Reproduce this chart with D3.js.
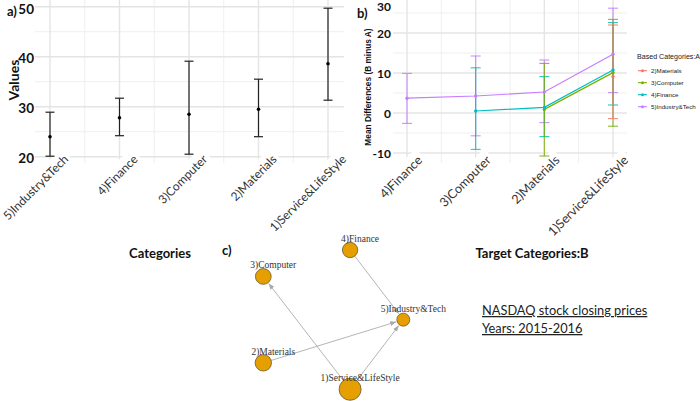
<!DOCTYPE html>
<html><head><meta charset="utf-8">
<script src="https://cdn.jsdelivr.net/npm/d3@7"></script>
<style>body{margin:0;background:#fff}svg{display:block}</style>
</head><body>
<script>
// ---------- DATA ----------
// Panel a
const categoriesA = ["5)Industry&Tech","4)Finance","3)Computer","2)Materials","1)Service&LifeStyle"];
const meanA  = [24.0, 27.8, 28.5, 29.5, 38.6];
const lowerA = [20.1, 24.2, 20.5, 24.0, 31.3];
const upperA = [28.9, 31.7, 39.1, 35.5, 49.7];
const ticksA = [20, 30, 40, 50];

// Panel b
const targetsB = ["4)Finance","3)Computer","2)Materials","1)Service&LifeStyle"];
const baseGroups = ["2)Materials","3)Computer","4)Finance","5)Industry&Tech"];
const meanMaterials  = [null, null, null, 9.1];
const lowerMaterials = [null, null, null, -1.4];
const upperMaterials = [null, null, null, 22.0];
const meanComputer  = [null, null, 0.9, 10.1];
const lowerComputer = [null, null, -10.75, -3.3];
const upperComputer = [null, null, 12.4, 23.4];
const meanFinance  = [null, 0.5, 1.4, 10.75];
const lowerFinance = [null, -9.1, -5.9, 2.0];
const upperFinance = [null, 11.3, 9.1, 22.6];
const meanIndustry  = [3.7, 4.25, 5.25, 14.7];
const lowerIndustry = [-2.6, -5.7, -2.4, 5.1];
const upperIndustry = [9.9, 14.25, 13.25, 26.2];
const ticksB = [-10, 0, 10, 20, 30];

// Panel c (network)
const nodeNames = ["1)Service&LifeStyle","2)Materials","3)Computer","4)Finance","5)Industry&Tech"];
const nodeLayoutX = [0.62, 0.0, 0.0, 0.62, 1.0];
const nodeLayoutY = [1.0, 0.81, 0.19, 0.0, 0.5];
const nodeValue = [38.6, 29.5, 28.5, 27.8, 24.0];
const edgeSource = ["1)Service&LifeStyle","1)Service&LifeStyle","2)Materials","4)Finance"];
const edgeTarget = ["3)Computer","5)Industry&Tech","5)Industry&Tech","5)Industry&Tech"];

const noteLines = ["NASDAQ stock closing prices", "Years: 2015-2016"];

// ---------- DRAW ----------
const W = 700, H = 401;
const svg = d3.select("body").append("svg").attr("width", W).attr("height", H)
  .style("font-family", "Lato, 'Open Sans', sans-serif");
svg.append("rect").attr("width", W).attr("height", H).attr("fill", "#fff");

const gridMajor = "#e4e4e4", gridMinor = "#efefef";

function rotLabels(g, scale, cats, dx, y, fs) {
  cats.forEach(c => {
    const gg = g.append("g").attr("transform", `translate(${scale(c) + dx},${y}) rotate(-45)`);
    const t = gg.append("text").attr("text-anchor", "end").attr("font-size", fs)
      .attr("fill", "#333").text(c);
    const bb = t.node().getBBox();
    gg.insert("rect", "text").attr("x", bb.x - 3).attr("y", bb.y - 2)
      .attr("width", bb.width + 6).attr("height", bb.height + 4).attr("fill", "#fff");
  });
}

// ===== Panel a =====
{
  const L = 35, R = 344, T = 0, B = 163;
  const x = d3.scalePoint().domain(categoriesA).range([50, 328]);
  const y = d3.scaleLinear().domain([20, 50]).range([156.7, 6.7]);
  const g = svg.append("g");
  [15, 25, 35, 45, 55].forEach(v => {
    const yy = y(v); if (yy < T || yy > B) return;
    g.append("line").attr("x1", L).attr("x2", R).attr("y1", yy).attr("y2", yy)
      .attr("stroke", gridMinor).attr("stroke-width", 1);
  });
  const step = x.step();
  categoriesA.slice(0, -1).forEach(c => {
    g.append("line").attr("x1", x(c) + step / 2).attr("x2", x(c) + step / 2).attr("y1", T).attr("y2", B)
      .attr("stroke", gridMinor).attr("stroke-width", 1);
  });
  ticksA.forEach(v => {
    g.append("line").attr("x1", L).attr("x2", R).attr("y1", y(v)).attr("y2", y(v))
      .attr("stroke", gridMajor).attr("stroke-width", 1.4);
  });
  categoriesA.forEach(c => {
    g.append("line").attr("x1", x(c)).attr("x2", x(c)).attr("y1", T).attr("y2", B)
      .attr("stroke", gridMajor).attr("stroke-width", 1.4);
  });
  ticksA.forEach(v => {
    g.append("text").attr("x", 34).attr("y", Math.max(y(v) + 6, 14)).attr("text-anchor", "end")
      .attr("font-size", 13.5).attr("font-weight", "bold").attr("fill", "#111").text(v);
  });
  rotLabels(g, x, categoriesA, 19, 160, 12);
  categoriesA.forEach((c, i) => {
    const cx = x(c);
    g.append("line").attr("x1", cx).attr("x2", cx).attr("y1", y(lowerA[i])).attr("y2", y(upperA[i]))
      .attr("stroke", "#222").attr("stroke-width", 1.2);
    [lowerA[i], upperA[i]].forEach(v => g.append("line").attr("x1", cx - 4.5).attr("x2", cx + 4.5)
      .attr("y1", y(v)).attr("y2", y(v)).attr("stroke", "#222").attr("stroke-width", 1.2));
    g.append("circle").attr("cx", cx).attr("cy", y(meanA[i])).attr("r", 1.8).attr("fill", "#000");
  });
  g.append("text").attr("transform", "translate(19,80) rotate(-90)").attr("text-anchor", "middle")
    .attr("font-size", 14).attr("font-weight", "bold").attr("fill", "#111").text("Values");
  g.append("text").attr("x", 160).attr("y", 258).attr("text-anchor", "middle")
    .attr("font-size", 13).attr("font-weight", "bold").attr("fill", "#111").text("Categories");
  g.append("text").attr("x", 7).attr("y", 16).attr("font-size", 13).attr("font-weight", "bold")
    .attr("fill", "#111").text("a)");
}

// ===== Panel b =====
{
  const L = 393, R = 627, T = 0, B = 163;
  const x = d3.scalePoint().domain(targetsB).range([407, 613]);
  const y = d3.scaleLinear().domain([-10, 20]).range([153, 33]);
  const g = svg.append("g");
  [-15, -5, 5, 15, 25].forEach(v => {
    const yy = y(v); if (yy < T || yy > B) return;
    g.append("line").attr("x1", L).attr("x2", R).attr("y1", yy).attr("y2", yy)
      .attr("stroke", gridMinor).attr("stroke-width", 1);
  });
  const step = x.step();
  targetsB.slice(0, -1).forEach(c => {
    g.append("line").attr("x1", x(c) + step / 2).attr("x2", x(c) + step / 2).attr("y1", T).attr("y2", B)
      .attr("stroke", gridMinor).attr("stroke-width", 1);
  });
  ticksB.forEach(v => {
    const yy = y(v); if (yy < T || yy > B) return;
    g.append("line").attr("x1", L).attr("x2", R).attr("y1", yy).attr("y2", yy)
      .attr("stroke", gridMajor).attr("stroke-width", 1.4);
  });
  targetsB.forEach(c => {
    g.append("line").attr("x1", x(c)).attr("x2", x(c)).attr("y1", T).attr("y2", B)
      .attr("stroke", gridMajor).attr("stroke-width", 1.4);
  });
  ticksB.forEach(v => {
    g.append("text").attr("x", 391).attr("y", Math.max(y(v) + 4.5, 10.5)).attr("text-anchor", "end")
      .attr("font-size", 12).attr("font-weight", "bold").attr("fill", "#111").text(v);
  });
  rotLabels(g, x, targetsB, 16, 161, 12.6);

  const colors = ["#F8766D", "#7CAE00", "#00BFC4", "#C77CFF"];
  const series = [
    {name: baseGroups[0], m: meanMaterials, lo: lowerMaterials, hi: upperMaterials},
    {name: baseGroups[1], m: meanComputer, lo: lowerComputer, hi: upperComputer},
    {name: baseGroups[2], m: meanFinance, lo: lowerFinance, hi: upperFinance},
    {name: baseGroups[3], m: meanIndustry, lo: lowerIndustry, hi: upperIndustry}
  ];
  const line = d3.line().defined(d => d.v != null).x(d => x(d.c)).y(d => y(d.v));
  series.slice().reverse().forEach((s) => {
    const col = colors[series.indexOf(s)];
    targetsB.forEach((c, i) => {
      if (s.m[i] == null) return;
      const cx = x(c);
      g.append("line").attr("x1", cx).attr("x2", cx).attr("y1", y(s.lo[i])).attr("y2", y(s.hi[i]))
        .attr("stroke", col).attr("stroke-width", 1.1).attr("opacity", 0.85);
      [s.lo[i], s.hi[i]].forEach(v => g.append("line").attr("x1", cx - 5).attr("x2", cx + 5)
        .attr("y1", y(v)).attr("y2", y(v)).attr("stroke", col).attr("stroke-width", 1.1).attr("opacity", 0.85));
    });
  });
  series.forEach((s, k) => {
    const pts = targetsB.map((c, i) => ({c, v: s.m[i]}));
    g.append("path").attr("d", line(pts)).attr("fill", "none").attr("stroke", colors[k]).attr("stroke-width", 1.2);
    pts.filter(p => p.v != null).forEach(p => g.append("circle").attr("cx", x(p.c)).attr("cy", y(p.v))
      .attr("r", 1.7).attr("fill", colors[k]));
  });
  g.append("text").attr("x", 637).attr("y", 59).attr("font-family", "'Liberation Sans', Arial, sans-serif")
    .attr("font-size", 7.1).attr("fill", "#222").text("Based Categories:A");
  baseGroups.forEach((b, k) => {
    const ly = 70.7 + k * 12;
    g.append("line").attr("x1", 638).attr("x2", 647).attr("y1", ly).attr("y2", ly)
      .attr("stroke", colors[k]).attr("stroke-width", 1.1);
    g.append("circle").attr("cx", 642.5).attr("cy", ly).attr("r", 1.5).attr("fill", colors[k]);
    g.append("text").attr("x", 651).attr("y", ly + 2.2).attr("font-family", "'Liberation Sans', Arial, sans-serif")
      .attr("font-size", 6.2).attr("fill", "#222").text(b);
  });
  g.append("text").attr("transform", "translate(371,87) rotate(-90)").attr("text-anchor", "middle")
    .attr("font-family", "'Liberation Sans', Arial, sans-serif")
    .attr("font-size", 8.3).attr("font-weight", "bold").attr("fill", "#111").text("Mean Differences (B minus A)");
  g.append("text").attr("x", 532).attr("y", 258).attr("text-anchor", "middle")
    .attr("font-size", 13).attr("font-weight", "bold").attr("fill", "#111").text("Target Categories:B");
  g.append("text").attr("x", 357).attr("y", 18).attr("font-size", 13).attr("font-weight", "bold")
    .attr("fill", "#111").text("b)");
}

// ===== Panel c =====
{
  const g = svg.append("g");
  const x = d3.scaleLinear().domain([0, 1]).range([263.3, 403.3]);
  const y = d3.scaleLinear().domain([0, 1]).range([250, 389.3]);
  const r = d3.scaleLinear().domain([24, 38.6]).range([6.5, 11]);
  const nodes = nodeNames.map((n, i) => ({n, x: x(nodeLayoutX[i]), y: y(nodeLayoutY[i]), r: r(nodeValue[i])}));
  const byName = Object.fromEntries(nodes.map(d => [d.n, d]));
  svg.append("defs").append("marker").attr("id", "arr").attr("viewBox", "0 0 10 10")
    .attr("refX", 10).attr("refY", 5).attr("markerWidth", 6).attr("markerHeight", 6)
    .attr("markerUnits", "userSpaceOnUse").attr("orient", "auto")
    .append("path").attr("d", "M0,1 L10,5 L0,9 Z").attr("fill", "#aaa");
  edgeSource.forEach((s, i) => {
    const a = byName[s], b = byName[edgeTarget[i]];
    const dx = b.x - a.x, dy = b.y - a.y, len = Math.hypot(dx, dy);
    const ux = dx / len, uy = dy / len;
    g.append("line").attr("x1", a.x + ux * a.r).attr("y1", a.y + uy * a.r)
      .attr("x2", b.x - ux * (b.r + 1)).attr("y2", b.y - uy * (b.r + 1))
      .attr("stroke", "#b5b5b5").attr("stroke-width", 1).attr("marker-end", "url(#arr)");
  });
  nodes.forEach(d => {
    g.append("circle").attr("cx", d.x).attr("cy", d.y).attr("r", d.r)
      .attr("fill", "#E69F00").attr("stroke", "#6b5a2e").attr("stroke-width", 0.8);
  });
  nodes.forEach(d => {
    g.append("text").attr("x", d.x + 10).attr("y", d.y - 8).attr("text-anchor", "middle")
      .attr("font-family", "'Liberation Serif', 'Times New Roman', serif")
      .attr("font-size", 9.5).attr("fill", "#333").text(d.n);
  });
  g.append("text").attr("x", 222).attr("y", 255).attr("font-size", 13).attr("font-weight", "bold")
    .attr("fill", "#111").text("c)");
  noteLines.forEach((t, i) => {
    g.append("text").attr("x", 482).attr("y", 315 + i * 18).attr("font-size", 12.8)
      .attr("fill", "#222").attr("text-decoration", "underline").text(t);
  });
}
</script>
</body></html>
